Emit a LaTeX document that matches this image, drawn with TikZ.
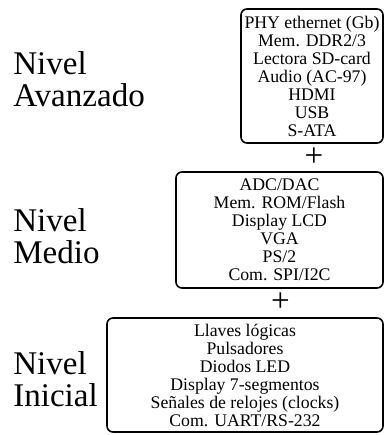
\documentclass[tikz,border=0pt]{standalone}
\usepackage{fontspec}
\setmainfont{Liberation Serif}
\begin{document}
\begin{tikzpicture}[
  x=0.75pt, y=-0.75pt,
  level box/.style={draw, very thick, rounded corners=4.5pt, align=center,
    inner sep=2pt, font=\fontsize{13.3}{13.5}\selectfont},
  level label/.style={anchor=west, align=left, inner sep=0pt,
    font=\fontsize{24.8}{24}\selectfont},
  plus sign/.style={inner sep=0pt, font=\fontsize{24.8}{24}\selectfont}
]
  % Page size of the reference (384 x 435 px)
  \useasboundingbox (0,0) rectangle (384,435);

  % Centres of the three level boxes
  \coordinate (A) at (312,76);
  \coordinate (M) at (279.5,230);
  \coordinate (I) at (245,375);

  % Advanced level
  \node[level box, minimum width=106.5pt, minimum height=100.5pt] (avanzado) at (A)
    {PHY ethernet (Gb)\\Mem. DDR2/3\\Lectora SD-card\\Audio (AC-97)\\HDMI\\USB\\S-ATA};
  \node[level label] (lblavanzado) at (13,79) {Nivel\\Avanzado};

  % Middle level
  \node[level box, minimum width=155.25pt, minimum height=87pt] (medio) at (M)
    {ADC/DAC\\Mem. ROM/Flash\\Display LCD\\VGA\\PS/2\\Com. SPI/I2C};
  \node[level label] (lblmedio) at (13,236) {Nivel\\Medio};

  % Initial level
  \node[level box, minimum width=207pt, minimum height=85.5pt] (inicial) at (I)
    {Llaves lógicas\\Pulsadores\\Diodos LED\\Display 7-segmentos\\Señales de relojes (clocks)\\Com. UART/RS-232};
  \node[level label] (lblinicial) at (13,379) {Nivel\\Inicial};

  % Plus signs between the levels
  \node[plus sign] (plusA) at (314,157) {+};
  \node[plus sign] (plusM) at (280.5,302) {+};

\end{tikzpicture}
\end{document}
